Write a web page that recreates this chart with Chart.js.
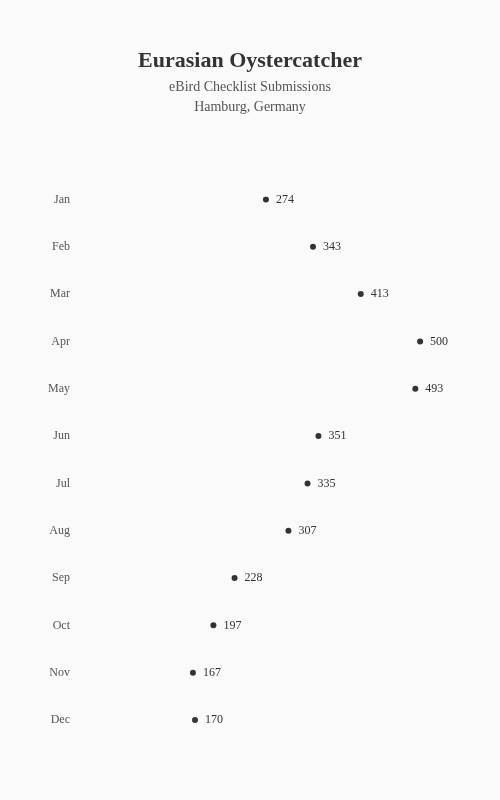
<!DOCTYPE html>
<html>
<head>
<meta charset="utf-8">
<script src="https://cdn.jsdelivr.net/npm/chart.js@4"></script>
<style>
  body { margin: 0; background: #fafafa; }
  #wrap { width: 500px; height: 800px; }
</style>
</head>
<body>
<div id="wrap"><canvas id="chart"></canvas></div>
<script>
const months = ['Jan', 'Feb', 'Mar', 'Apr', 'May', 'Jun', 'Jul', 'Aug', 'Sep', 'Oct', 'Nov', 'Dec'];
const checklists = [274, 343, 413, 500, 493, 351, 335, 307, 228, 197, 167, 170];

const titleText = 'Eurasian Oystercatcher';
const subtitleLines = ['eBird Checklist Submissions', 'Hamburg, Germany'];

const serif = "'Liberation Serif', 'Times New Roman', serif";

// writes the value next to each dot
const valueLabels = {
  id: 'valueLabels',
  afterDatasetsDraw(chart) {
    const ctx = chart.ctx;
    const meta = chart.getDatasetMeta(0);
    ctx.save();
    ctx.font = '12px ' + serif;
    ctx.fillStyle = '#333';
    ctx.textAlign = 'left';
    ctx.textBaseline = 'middle';
    meta.data.forEach((pt, i) => {
      ctx.fillText(String(checklists[i]), pt.x + 10, pt.y);
    });
    ctx.restore();
  }
};

const bg = {
  id: 'bg',
  beforeDraw(chart) {
    const ctx = chart.ctx;
    ctx.save();
    ctx.fillStyle = '#fafafa';
    ctx.fillRect(0, 0, chart.width, chart.height);
    ctx.restore();
  }
};

new Chart(document.getElementById('chart'), {
  type: 'line',
  data: {
    labels: months,
    datasets: [{
      data: checklists,
      showLine: false,
      pointRadius: 3,
      pointHoverRadius: 3,
      pointBackgroundColor: '#333',
      pointBorderColor: '#333',
      pointBorderWidth: 0
    }]
  },
  options: {
    indexAxis: 'y',
    responsive: true,
    maintainAspectRatio: false,
    animation: false,
    layout: { padding: { left: 26, right: 26, top: 0, bottom: 80 } },
    scales: {
      x: { display: false, min: 0, max: 579 },
      y: {
        afterFit(scale) { scale.width = 53; },
        grid: { display: false, drawTicks: false },
        border: { display: false },
        ticks: {
          crossAlign: 'near',
          padding: 9,
          color: '#555',
          font: { family: serif, size: 12 }
        }
      }
    },
    plugins: {
      legend: { display: false },
      tooltip: { enabled: false },
      title: {
        display: true,
        text: titleText,
        color: '#333',
        font: { family: serif, size: 22, weight: 'bold', lineHeight: 1.2 },
        padding: { top: 48, bottom: 3 }
      },
      subtitle: {
        display: true,
        text: subtitleLines,
        color: '#555',
        font: { family: serif, size: 14, lineHeight: 1.43 },
        padding: { top: 0, bottom: 82 }
      }
    }
  },
  plugins: [bg, valueLabels]
});
</script>
</body>
</html>
